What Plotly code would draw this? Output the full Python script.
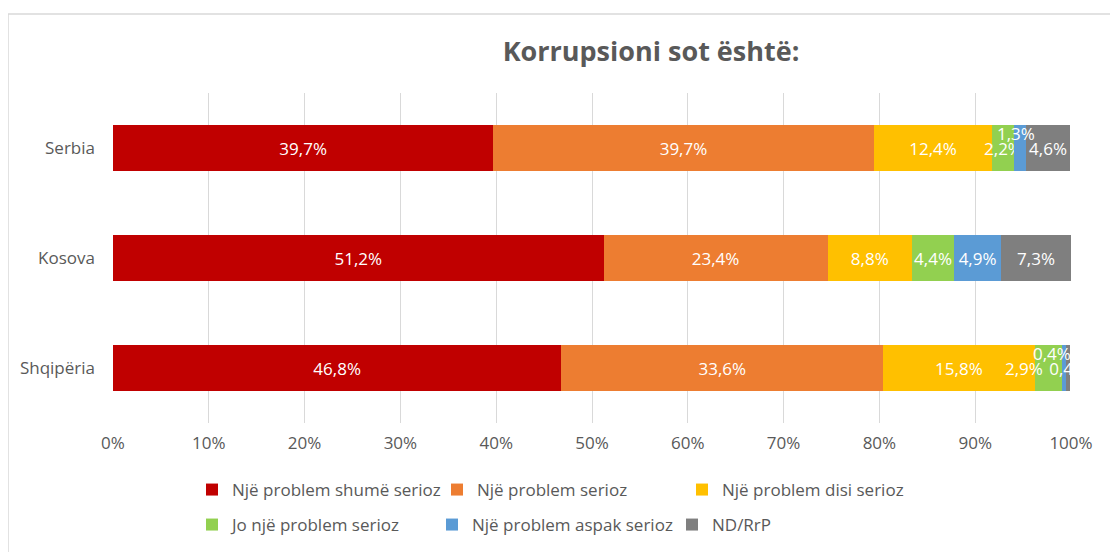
import plotly.graph_objects as go

countries = ["Shqipëria", "Kosova", "Serbia"]
series_names = [
    "Një problem shumë serioz",
    "Një problem serioz",
    "Një problem disi serioz",
    "Jo një problem serioz",
    "Një problem aspak serioz",
    "ND/RrP",
]
shume_serioz = [46.8, 51.2, 39.7]
serioz = [33.6, 23.4, 39.7]
disi_serioz = [15.8, 8.8, 12.4]
jo_serioz = [2.9, 4.4, 2.2]
aspak_serioz = [0.4, 4.9, 1.3]
nd_rrp = [0.4, 7.3, 4.6]
values = [shume_serioz, serioz, disi_serioz, jo_serioz, aspak_serioz, nd_rrp]
colors = ["#C00000", "#ED7D31", "#FFC000", "#92D050", "#5B9BD5", "#7F7F7F"]

# label offsets (px) for crowded labels: (series index, country index) -> (xshift, yshift)
label_shift = {(4, 2): (-4, 15), (4, 0): (-12, 15), (3, 0): (-24, 0)}

FONT = "Open Sans"
GREY = "#595959"

fig = go.Figure()
annotations = []
cum = [0.0] * len(countries)
for si, (name, vals, col) in enumerate(zip(series_names, values, colors)):
    texts = []
    for ci, v in enumerate(vals):
        lab = f"{v:.1f}%".replace(".", ",")
        if (si, ci) in label_shift:
            dx, dy = label_shift[(si, ci)]
            annotations.append(dict(
                x=cum[ci] + v / 2, y=countries[ci], xref="x", yref="y",
                text=lab, showarrow=False, xshift=dx, yshift=dy,
                font=dict(family=FONT, size=17, color="white"),
            ))
            texts.append("")
        else:
            texts.append(lab)
        cum[ci] += v
    fig.add_trace(go.Bar(
        y=countries, x=vals, name=name, orientation="h",
        marker=dict(color=col, line=dict(width=0)),
        text=texts, textposition="inside", insidetextanchor="middle",
        textangle=0, constraintext="none",
        textfont=dict(family=FONT, size=17, color="white"),
        legend="legend" if si < 3 else "legend2",
        hoverinfo="skip",
    ))

W, H = 1118, 552
OFF = 8  # page body margin offset
ml, mr, mt, mb = 113 - OFF, W - (1071 - OFF), 93 - OFF, H - (423 - OFF)
pw, ph = W - ml - mr, H - mt - mb

def px_x(px):
    return (px - OFF - ml) / pw

def px_y(py):
    return (H - mb - (py - OFF)) / ph

fig.update_layout(
    width=W, height=H,
    margin=dict(l=ml, r=mr, t=mt, b=mb),
    barmode="stack", bargap=0.58,
    paper_bgcolor="white", plot_bgcolor="white",
    font=dict(family=FONT, color=GREY),
    title=dict(text="<b>Korrupsioni sot është:</b>", x=(651 - OFF) / W, xanchor="center",
               y=1 - (52 - OFF) / H, yanchor="middle",
               font=dict(family=FONT, size=27, color=GREY)),
    xaxis=dict(range=[0, 100], dtick=10, ticksuffix="%", showgrid=True,
               gridcolor="#D9D9D9", gridwidth=1, zeroline=False, showline=False,
               tickfont=dict(family=FONT, size=17, color=GREY),
               ticklabelstandoff=8),
    yaxis=dict(showgrid=False, zeroline=False, showline=False,
               tickfont=dict(family=FONT, size=17, color=GREY),
               ticklabelstandoff=17),
    legend=dict(orientation="h", x=px_x(192), xanchor="left", y=px_y(490), yanchor="middle",
                entrywidth=200, font=dict(family=FONT, size=17, color=GREY),
                bgcolor="rgba(0,0,0,0)", traceorder="normal"),
    legend2=dict(orientation="h", x=px_x(192), xanchor="left", y=px_y(525), yanchor="middle",
                 entrywidth=195, font=dict(family=FONT, size=17, color=GREY),
                 bgcolor="rgba(0,0,0,0)", traceorder="normal"),
    annotations=annotations,
    shapes=[dict(type="rect", xref="paper", yref="paper",
                 x0=px_x(8), x1=px_x(1140), y0=px_y(580), y1=px_y(14),
                 line=dict(color="#D9D9D9", width=1.5), fillcolor="rgba(0,0,0,0)",
                 layer="below")],
    separators=",.",
    showlegend=True,
)

fig.write_html("out.html")
